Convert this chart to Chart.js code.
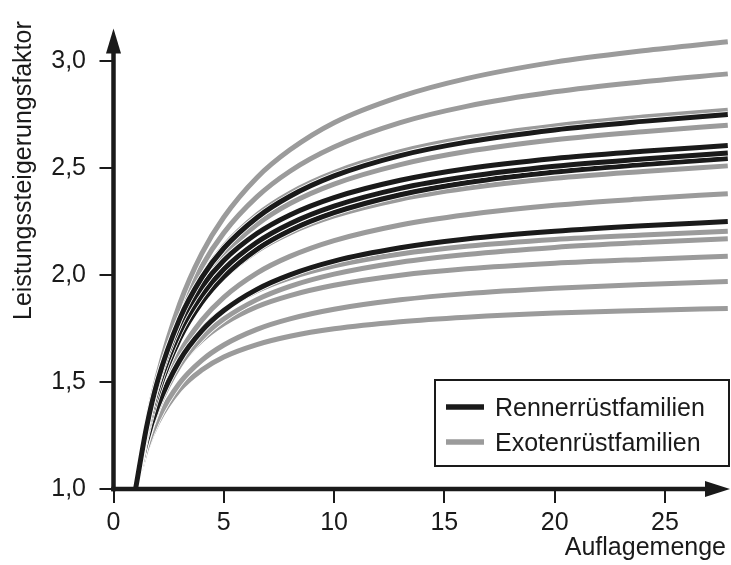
<!DOCTYPE html>
<html>
<head>
<meta charset="utf-8">
<script src="https://cdn.jsdelivr.net/npm/chart.js@4.4.1/dist/chart.umd.min.js"></script>
<style>
  html, body { margin: 0; padding: 0; background: #ffffff; }
  #wrap { width: 731px; height: 565px; position: relative; }
</style>
</head>
<body>
<div id="wrap"><canvas id="chart" width="731" height="565"></canvas></div>
<script>
// Auflagemenge (x) sampling positions shared by all curves
const auflagemenge = [1, 1.5, 2, 3, 4, 5, 6.5, 8, 10, 13, 16, 20, 24, 27.85];

// Rennerrüstfamilien – Leistungssteigerungsfaktor
const renner1 = [1, 1.290, 1.505, 1.795, 1.988, 2.125, 2.268, 2.368, 2.463, 2.558, 2.621, 2.678, 2.718, 2.750];
const renner2 = [1, 1.288, 1.495, 1.770, 1.945, 2.068, 2.194, 2.281, 2.362, 2.443, 2.497, 2.545, 2.578, 2.605];
const renner3 = [1, 1.270, 1.468, 1.733, 1.905, 2.027, 2.153, 2.240, 2.322, 2.405, 2.459, 2.508, 2.542, 2.570];
const renner4 = [1, 1.256, 1.444, 1.702, 1.872, 1.992, 2.120, 2.208, 2.291, 2.375, 2.431, 2.481, 2.516, 2.545];
const renner5 = [1, 1.224, 1.385, 1.601, 1.739, 1.834, 1.933, 2.001, 2.065, 2.127, 2.168, 2.204, 2.230, 2.250];

// Exotenrüstfamilien – Leistungssteigerungsfaktor
const exoten1  = [1, 1.300, 1.530, 1.865, 2.100, 2.270, 2.455, 2.585, 2.712, 2.834, 2.918, 2.995, 3.048, 3.090];
const exoten2  = [1, 1.290, 1.510, 1.825, 2.040, 2.197, 2.365, 2.485, 2.598, 2.712, 2.788, 2.856, 2.903, 2.940];
const exoten3  = [1, 1.287, 1.501, 1.798, 1.994, 2.134, 2.281, 2.383, 2.479, 2.576, 2.640, 2.697, 2.738, 2.770];
const exoten4  = [1, 1.280, 1.488, 1.774, 1.963, 2.096, 2.236, 2.334, 2.425, 2.516, 2.577, 2.632, 2.670, 2.700];
const exoten5  = [1, 1.259, 1.449, 1.706, 1.873, 1.990, 2.113, 2.197, 2.276, 2.354, 2.405, 2.452, 2.484, 2.510];
const exoten6  = [1, 1.231, 1.402, 1.635, 1.788, 1.896, 2.009, 2.087, 2.161, 2.234, 2.282, 2.326, 2.356, 2.380];
const exoten7  = [1, 1.238, 1.402, 1.615, 1.746, 1.835, 1.926, 1.987, 2.043, 2.098, 2.134, 2.166, 2.187, 2.205];
const exoten8  = [1, 1.219, 1.373, 1.577, 1.706, 1.794, 1.885, 1.947, 2.004, 2.060, 2.096, 2.129, 2.152, 2.170];
const exoten9  = [1, 1.229, 1.384, 1.578, 1.695, 1.773, 1.852, 1.904, 1.952, 1.999, 2.029, 2.055, 2.073, 2.088];
const exoten10 = [1, 1.191, 1.324, 1.495, 1.601, 1.673, 1.746, 1.795, 1.840, 1.884, 1.913, 1.938, 1.956, 1.970];
const exoten11 = [1, 1.185, 1.310, 1.465, 1.556, 1.617, 1.675, 1.714, 1.749, 1.782, 1.803, 1.822, 1.834, 1.844];

// Axis tick values
const xTicks = [0, 5, 10, 15, 20, 25];
const yTicks = [1.0, 1.5, 2.0, 2.5, 3.0];

const legendLabels = ['Rennerrüstfamilien', 'Exotenrüstfamilien'];
const xTitle = 'Auflagemenge';
const yTitle = 'Leistungssteigerungsfaktor';

const BLACK = '#1a1a1a';
const GREY = '#9b9b9b';
const FONT = '"Liberation Sans", Arial, Helvetica, sans-serif';

const rennerSeries = [renner1, renner2, renner3, renner4, renner5];
const exotenSeries = [exoten1, exoten2, exoten3, exoten4, exoten5, exoten6, exoten7,
                      exoten8, exoten9, exoten10, exoten11];

function toPoints(values) {
  return values.map((v, i) => ({ x: auflagemenge[i], y: v }));
}

// Each curve gets a thin white casing drawn right under it, so that
// overlapping curves stay separated by a hairline.
const datasets = [];
function addCurve(values, color, label) {
  const common = {
    data: toPoints(values),
    pointRadius: 0,
    fill: false,
    cubicInterpolationMode: 'monotone',
    borderCapStyle: 'butt',
    borderJoinStyle: 'round'
  };
  datasets.push(Object.assign({}, common, { label: label, borderColor: color, borderWidth: 5 }));
  datasets.push(Object.assign({}, common, { label: label + ' (Rand)', borderColor: '#ffffff', borderWidth: 6.6 }));
}
rennerSeries.forEach(s => addCurve(s, BLACK, legendLabels[0]));
exotenSeries.forEach(s => addCurve(s, GREY, legendLabels[1]));

function fixedTicks(list) {
  return function (scale) {
    scale.ticks = list.map(v => ({ value: v }));
  };
}

// Arrowed axes, axis titles and the framed legend
const decorations = {
  id: 'decorations',
  afterDraw(chart) {
    const ctx = chart.ctx;
    const a = chart.chartArea;
    const x0 = chart.scales.x.getPixelForValue(0);
    const y0 = chart.scales.y.getPixelForValue(1);
    ctx.save();
    ctx.strokeStyle = BLACK;
    ctx.fillStyle = BLACK;
    ctx.lineWidth = 4.5;
    ctx.lineCap = 'butt';
    // y axis
    ctx.beginPath();
    ctx.moveTo(x0, y0 + 2.25);
    ctx.lineTo(x0, a.top + 20);
    ctx.stroke();
    ctx.beginPath();
    ctx.moveTo(x0, a.top);
    ctx.lineTo(x0 + 7.5, a.top + 25);
    ctx.lineTo(x0 - 7.5, a.top + 25);
    ctx.closePath();
    ctx.fill();
    // x axis
    ctx.beginPath();
    ctx.moveTo(x0 - 2.25, y0);
    ctx.lineTo(a.right - 20, y0);
    ctx.stroke();
    ctx.beginPath();
    ctx.moveTo(a.right, y0);
    ctx.lineTo(a.right - 25, y0 - 8);
    ctx.lineTo(a.right - 25, y0 + 8);
    ctx.closePath();
    ctx.fill();

    // axis titles
    ctx.font = '25px ' + FONT;
    ctx.textBaseline = 'alphabetic';
    ctx.textAlign = 'right';
    ctx.fillText(xTitle, 726, 555);
    ctx.save();
    ctx.translate(31, 320);
    ctx.rotate(-Math.PI / 2);
    ctx.textAlign = 'left';
    ctx.fillText(yTitle, 0, 0);
    ctx.restore();

    // legend
    ctx.fillStyle = '#ffffff';
    ctx.fillRect(435, 380, 294, 86);
    ctx.lineWidth = 2;
    ctx.strokeStyle = BLACK;
    ctx.strokeRect(435, 380, 294, 86);
    const rows = [[BLACK, 407, 416], [GREY, 442, 451]];
    rows.forEach((r, i) => {
      ctx.strokeStyle = r[0];
      ctx.lineWidth = 5.5;
      ctx.beginPath();
      ctx.moveTo(446, r[1]);
      ctx.lineTo(484, r[1]);
      ctx.stroke();
      ctx.fillStyle = BLACK;
      ctx.textAlign = 'left';
      ctx.fillText(legendLabels[i], 495, r[2]);
    });
    ctx.restore();
  }
};

new Chart(document.getElementById('chart'), {
  type: 'line',
  data: { datasets: datasets },
  options: {
    responsive: false,
    animation: false,
    devicePixelRatio: 1,
    layout: { padding: { top: 13, right: 1, left: 0, bottom: 0 } },
    plugins: { legend: { display: false }, tooltip: { enabled: false } },
    scales: {
      x: {
        type: 'linear',
        min: 0,
        max: 27.95,
        afterBuildTicks: fixedTicks(xTicks),
        afterFit(s) { s.height = 76; },
        ticks: {
          autoSkip: false,
          maxRotation: 0,
          padding: 5.5,
          color: BLACK,
          font: { family: FONT, size: 25 },
          callback: v => String(v)
        },
        grid: { drawOnChartArea: false, drawTicks: true, tickLength: 14, lineWidth: 2, color: BLACK },
        border: { display: false }
      },
      y: {
        type: 'linear',
        min: 1,
        max: 3.152,
        afterBuildTicks: fixedTicks(yTicks),
        afterFit(s) { s.width = 113.5; },
        ticks: {
          autoSkip: false,
          padding: 13.5,
          color: BLACK,
          font: { family: FONT, size: 25 },
          callback: v => Number(v).toFixed(1).replace('.', ',')
        },
        grid: { drawOnChartArea: false, drawTicks: true, tickLength: 14, lineWidth: 2, color: BLACK },
        border: { display: false }
      }
    }
  },
  plugins: [decorations]
});
</script>
</body>
</html>
